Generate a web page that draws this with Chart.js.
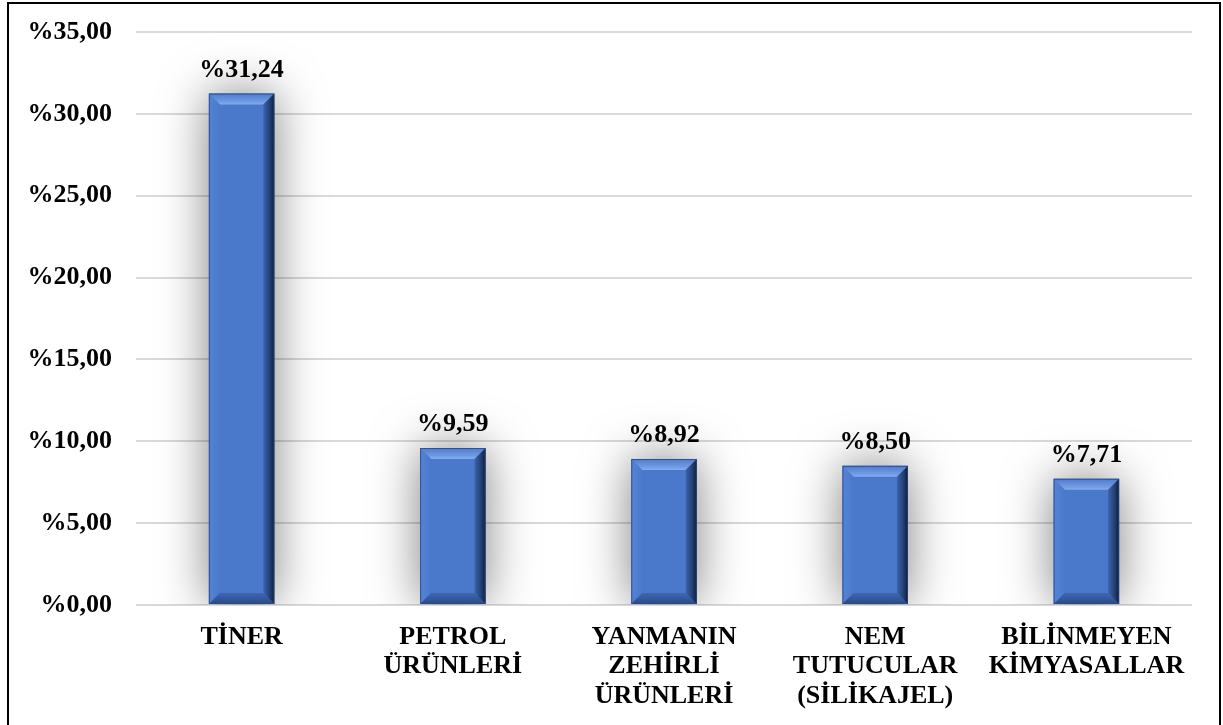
<!DOCTYPE html>
<html>
<head>
<meta charset="utf-8">
<script src="https://cdn.jsdelivr.net/npm/chart.js@4.4.1/dist/chart.umd.min.js"></script>
<style>
  html, body { margin: 0; padding: 0; background: #ffffff; overflow: hidden; }
  #wrap { position: relative; width: 1223px; height: 725px; }
  #frame { position: absolute; left: 7px; top: 2px; width: 1210px; height: 800px; border: 2px solid #000; pointer-events: none; }
  canvas { display: block; }
</style>
</head>
<body>
<div id="wrap">
  <canvas id="c" width="1223" height="725"></canvas>
  <div id="frame"></div>
</div>
<script>
// ---- Data ----
const categories = [
  ['TİNER'],
  ['PETROL', 'ÜRÜNLERİ'],
  ['YANMANIN', 'ZEHİRLİ', 'ÜRÜNLERİ'],
  ['NEM', 'TUTUCULAR', '(SİLİKAJEL)'],
  ['BİLİNMEYEN', 'KİMYASALLAR']
];
const percentages = [31.24, 9.59, 8.92, 8.50, 7.71];
const yTickValues = [0, 5, 10, 15, 20, 25, 30, 35];
const yTickLabels = ['%0,00', '%5,00', '%10,00', '%15,00', '%20,00', '%25,00', '%30,00', '%35,00'];

const FONT_FAMILY = '"Liberation Serif", "Times New Roman", serif';

function fmtPct(v) { return '%' + v.toFixed(2).replace('.', ','); }

// Soft grey glow behind bars
const glowPlugin = {
  id: 'glow',
  beforeDatasetsDraw(chart) {
    const ctx = chart.ctx;
    ctx.save();
    ctx.shadowColor = 'rgba(0,0,0,0.50)';
    ctx.shadowBlur = 48;
    ctx.shadowOffsetX = 0;
    ctx.shadowOffsetY = 0;
  },
  afterDatasetsDraw(chart) {
    chart.ctx.restore();
  }
};

// Bevel effect + value labels drawn from bar elements computed by Chart.js
const bevelPlugin = {
  id: 'bevel',
  afterDatasetsDraw(chart) {
    const ctx = chart.ctx;
    const meta = chart.getDatasetMeta(0);
    meta.data.forEach((bar, i) => {
      const p = bar.getProps(['x', 'y', 'base', 'width'], true);
      const x0 = p.x - p.width / 2, x1 = p.x + p.width / 2;
      const y0 = Math.min(p.y, p.base), y1 = Math.max(p.y, p.base);
      const b = 11;
      ctx.save();
      // top bevel
      let g = ctx.createLinearGradient(0, y0, 0, y0 + b);
      g.addColorStop(0, '#4d7bcf');
      g.addColorStop(0.7, '#6f9ae2');
      g.addColorStop(1, '#86adef');
      ctx.fillStyle = g;
      ctx.beginPath();
      ctx.moveTo(x0, y0); ctx.lineTo(x1, y0); ctx.lineTo(x1 - b, y0 + b); ctx.lineTo(x0 + b, y0 + b); ctx.closePath();
      ctx.fill();
      // left bevel
      g = ctx.createLinearGradient(x0, 0, x0 + b, 0);
      g.addColorStop(0, '#5583d6');
      g.addColorStop(1, '#4a78cb');
      ctx.fillStyle = g;
      ctx.beginPath();
      ctx.moveTo(x0, y0); ctx.lineTo(x0 + b, y0 + b); ctx.lineTo(x0 + b, y1 - b); ctx.lineTo(x0, y1); ctx.closePath();
      ctx.fill();
      // bottom bevel
      g = ctx.createLinearGradient(0, y1 - b, 0, y1);
      g.addColorStop(0, '#3e67b3');
      g.addColorStop(1, '#2a4a86');
      ctx.fillStyle = g;
      ctx.beginPath();
      ctx.moveTo(x0, y1); ctx.lineTo(x1, y1); ctx.lineTo(x1 - b, y1 - b); ctx.lineTo(x0 + b, y1 - b); ctx.closePath();
      ctx.fill();
      // right bevel
      g = ctx.createLinearGradient(x1 - b, 0, x1, 0);
      g.addColorStop(0, '#3b64ae');
      g.addColorStop(0.6, '#233f73');
      g.addColorStop(1, '#0f1b33');
      ctx.fillStyle = g;
      ctx.beginPath();
      ctx.moveTo(x1, y0); ctx.lineTo(x1, y1); ctx.lineTo(x1 - b, y1 - b); ctx.lineTo(x1 - b, y0 + b); ctx.closePath();
      ctx.fill();
      // outline
      ctx.strokeStyle = 'rgba(40,70,130,0.8)';
      ctx.lineWidth = 1;
      ctx.strokeRect(x0 + 0.5, y0 + 0.5, p.width - 1, y1 - y0 - 1);
      ctx.restore();

      // value label
      ctx.save();
      ctx.font = 'bold 26px ' + FONT_FAMILY;
      ctx.fillStyle = '#000';
      ctx.textAlign = 'center';
      ctx.textBaseline = 'alphabetic';
      ctx.fillText(fmtPct(percentages[i]), p.x, y0 - 17);
      ctx.restore();
    });
  }
};

new Chart(document.getElementById('c'), {
  type: 'bar',
  data: {
    labels: categories,
    datasets: [{
      data: percentages,
      backgroundColor: '#4a78cb',
      borderWidth: 0,
      categoryPercentage: 1.0,
      barPercentage: 0.31
    }]
  },
  options: {
    responsive: false,
    animation: false,
    devicePixelRatio: 1,
    layout: { padding: { left: 0, right: 31, top: 32, bottom: 0 } },
    plugins: {
      legend: { display: false },
      tooltip: { enabled: false }
    },
    scales: {
      x: {
        grid: { display: false, drawTicks: false },
        border: { display: false },
        ticks: {
          color: '#000',
          padding: 18,
          maxRotation: 0,
          autoSkip: false,
          font: { family: FONT_FAMILY, size: 26, weight: 'bold', lineHeight: 1.12 }
        },
        afterFit(scale) { scale.height = 120; }
      },
      y: {
        min: 0,
        max: 35,
        afterBuildTicks(scale) { scale.ticks = yTickValues.map(v => ({ value: v })); },
        grid: { color: '#d9d9d9', lineWidth: 2, drawTicks: false },
        border: { display: false },
        ticks: {
          color: '#000',
          padding: 24,
          font: { family: FONT_FAMILY, size: 26, weight: 'bold' },
          callback: (v) => yTickLabels[yTickValues.indexOf(v)]
        },
        afterFit(scale) {
          scale.width = 136;
          scale.paddingTop = 0;
          scale.paddingBottom = 0;
        }
      }
    }
  },
  plugins: [glowPlugin, bevelPlugin]
});
</script>
</body>
</html>
